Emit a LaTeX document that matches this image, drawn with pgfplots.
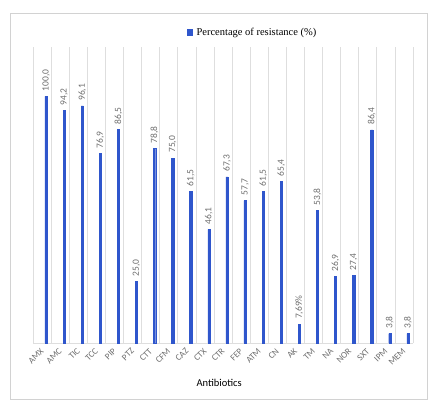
\documentclass[border=0pt]{standalone}
\usepackage{pgfplots}
\pgfplotsset{compat=1.18}
\usepackage{fontspec}
\setmainfont{Carlito}
\newfontfamily\legendfont{Liberation Serif}
\definecolor{barblue}{RGB}{47,86,204}
\definecolor{gridgray}{RGB}{222,222,222}
\definecolor{labelgray}{RGB}{110,110,110}
\definecolor{framegray}{RGB}{210,210,210}

\begin{document}
\begin{tikzpicture}
\useasboundingbox (0pt,0pt) rectangle (435pt,408pt);
\draw[framegray, line width=0.8pt] (10pt,9pt) rectangle (427pt,395pt);
\begin{axis}[
  at={(33pt,65pt)}, anchor=south west,
  scale only axis, width=380pt, height=296pt,
  ybar, bar width=2.2pt,
  xmin=-0.72, xmax=20.28, ymin=0, ymax=120,
  axis y line=none,
  axis x line*=bottom,
  x axis line style={gridgray, -},
  xtick=data,
  xticklabels={AMX,AMC,TIC,TCC,PIP,PTZ,CTT,CFM,CAZ,CTX,CTR,FEP,ATM,CN,AK,TM,NA,NOR,SXT,IPM,MEM},
  xticklabel style={xshift=-3pt, yshift=-6pt, rotate=45, anchor=east, font=\fontsize{9}{10}\selectfont, text=labelgray, inner sep=1pt},
  major tick length=0pt,
  minor xtick={-0.72,0.28,...,20.3},
  minor tick length=0pt,
  xminorgrids, minor grid style={gridgray, line width=0.7pt},
  xlabel={Antibiotics},
  xlabel style={at={(0.49,0)}, anchor=north, yshift=-33pt, font=\fontsize{10.5}{12}\selectfont},
  point meta=explicit symbolic,
  nodes near coords,
  nodes near coords style={rotate=90, anchor=west, font=\fontsize{9.5}{10}\selectfont, text=labelgray, inner sep=0pt, xshift=5pt},
  legend style={at={(0.578,1.05)}, anchor=center, draw=none, fill=none, font=\legendfont\fontsize{10.5}{12}\selectfont, inner sep=0pt},
  legend image code/.code={\fill[barblue] (0pt,-2.6pt) rectangle (5.2pt,2.6pt);},
  clip=false,
]
\addplot[fill=barblue, draw=barblue] table[meta=lab] {
x  y      lab
0  100.0  100,0
1  94.2   94,2
2  96.1   96,1
3  76.9   76,9
4  86.5   86,5
5  25.0   25,0
6  78.8   78,8
7  75.0   75,0
8  61.5   61,5
9  46.1   46,1
10 67.3   67,3
11 57.7   57,7
12 61.5   61,5
13 65.4   65,4
14 7.69   7,69\%
15 53.8   53,8
16 26.9   26,9
17 27.4   27,4
18 86.4   86,4
19 3.8    3,8
20 3.8    3,8
};
\addlegendentry{\hspace{2pt}Percentage of resistance (\%)}
\end{axis}
\end{tikzpicture}
\end{document}
